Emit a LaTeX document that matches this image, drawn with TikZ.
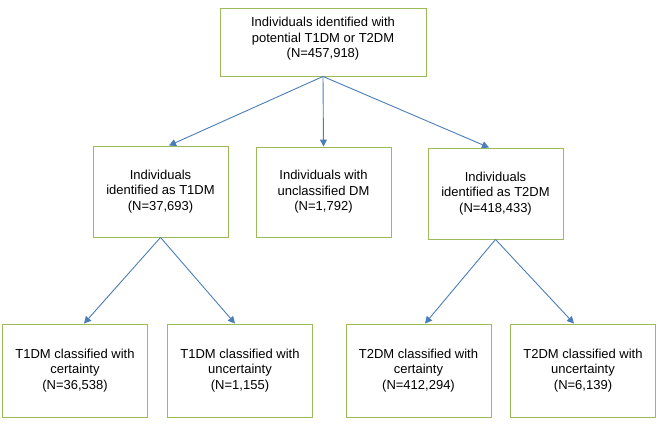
\documentclass[tikz,border=0pt]{standalone}
\usepackage{fontspec}
\setmainfont{Liberation Sans}
\usetikzlibrary{arrows.meta}
\definecolor{boxgreen}{RGB}{155,187,89}
\definecolor{flowblue}{RGB}{74,126,187}
\begin{document}
\begin{tikzpicture}[x=1pt,y=-1pt,
  box/.style={draw=boxgreen,line width=0.9pt,align=center,inner sep=0pt,
    minimum width=135,minimum height=91,font=\fontsize{13}{15.5}\selectfont},
  flow/.style={draw=flowblue,line width=0.9pt,-{Triangle[length=7pt,width=7pt]}}]
\useasboundingbox (0,0) rectangle (658,424);
% top of the tree
\node[box,minimum width=206,minimum height=68] (all) at (323,42)
  {Individuals identified with\\potential T1DM or T2DM\\(N=457,918)\\[-7pt]\mbox{}};
% middle row
\node[box] (t1) at (160.5,191.5) {Individuals\\identified as T1DM\\(N=37,693)};
\node[box,minimum height=90] (unc) at (323.5,192) {Individuals with\\unclassified DM\\(N=1,792)};
\node[box] (t2) at (495.5,193.5) {Individuals\\identified as T2DM\\(N=418,433)};
% bottom row
\foreach \n/\x/\txt in {c1/75/{T1DM classified with\\certainty\\(N=36,538)},
    c2/240/{T1DM classified with\\uncertainty\\(N=1,155)},
    c3/418.5/{T2DM classified with\\certainty\\(N=412,294)},
    c4/583/{T2DM classified with\\uncertainty\\(N=6,139)}}{
  \node[box,minimum width=145,minimum height=93] (\n) at (\x,370.5) {\txt};
}
% arrows
\draw[flow] (all.south) -- ([xshift=8.5]t1.north);
\draw[flow] (all.south) -- (unc.north);
\draw[flow] (all.south) -- ([xshift=-6.5]t2.north);
\foreach \a/\b/\s in {t1/c1/9,t1/c2/-5,t2/c3/6.5,t2/c4/-9}{
  \draw[flow] (\a.south) -- ([xshift=\s]\b.north);
}
\end{tikzpicture}
\end{document}
